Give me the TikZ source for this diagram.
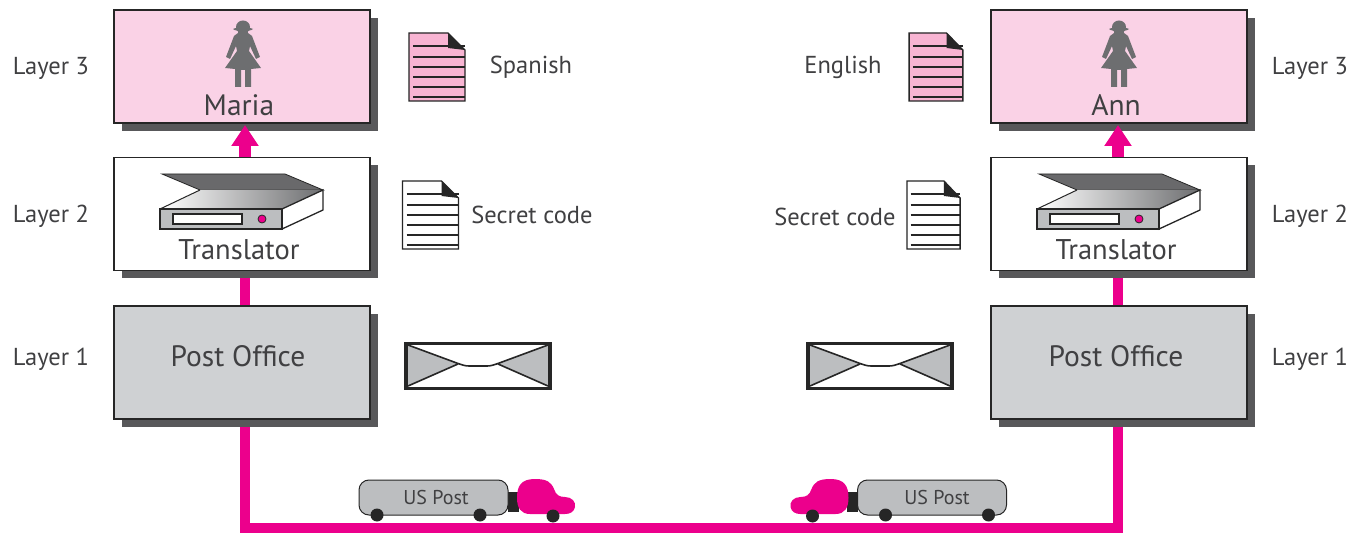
\documentclass[tikz,border=0pt]{standalone}
\usepackage{fontspec}
\setmainfont{PT Sans}
\usetikzlibrary{arrows.meta,shadows,backgrounds}
\definecolor{pinkline}{HTML}{EC008C}
\definecolor{boxpink}{HTML}{FAD2E6}
\definecolor{docpink}{HTML}{F8B4D2}
\definecolor{boxgrey}{HTML}{CFD1D3}
\definecolor{shade}{HTML}{58585A}
\definecolor{ink}{HTML}{262626}
\definecolor{txt}{HTML}{404042}
\definecolor{icongrey}{HTML}{6D6E70}
\definecolor{bodygrey}{HTML}{BCBEC0}
\tikzset{
  box/.style={draw=ink,line width=1.8pt,minimum width=256pt,minimum height=113pt,inner sep=0pt,outer sep=0pt,
    copy shadow={shadow xshift=8pt,shadow yshift=-8pt,fill=shade,draw=none}},
  pinkbox/.style={box,fill=boxpink},
  whitebox/.style={box,fill=white},
  greybox/.style={box,fill=boxgrey},
  lab/.style={text=txt,font=\fontsize{24.5}{27}\selectfont,inner sep=0pt},
  boxlab/.style={text=txt,font=\fontsize{29.5}{32}\selectfont,inner sep=0pt},
  trlab/.style={text=txt,font=\fontsize{28.5}{32}\selectfont,inner sep=0pt},
  truck text/.style={text=txt,font=\fontsize{20}{22}\selectfont,inner sep=0pt},
  wire/.style={draw=pinkline,line width=10pt,line join=miter},
  uparrow/.style={draw=pinkline,line width=12pt,-{Triangle[width=26pt,length=21pt]}},
  pic line/.style={draw=ink,line width=1.3pt},
  person/.pic={
    \fill[icongrey] (-5,-21) -- (5,-21) -- (9,-18) -- (17,3) -- (13,5) -- (7,-8) -- (6,-3) -- (18,14) -- (8,15) -- (8,33) -- (2,33) -- (2,16) -- (-2,16) -- (-2,33) -- (-8,33) -- (-8,15) -- (-18,14) -- (-6,-3) -- (-7,-8) -- (-13,5) -- (-17,3) -- (-9,-18) -- cycle;
    \fill[icongrey] (0,-27) ellipse (7 and 6.5);
    \fill[icongrey] (-10,-25) .. controls (-7,-27) and (7,-27) .. (10,-25) .. controls (7,-22) and (-7,-22) .. (-10,-25) -- cycle;
    \fill[icongrey] (-5,-25) rectangle (5,-19);
  },
  scanner/.pic={
    \fill[shade!90!white,draw=ink,line width=.8pt] (-80,-40) -- (43,-40) -- (81,-24) -- (-42,-24) -- cycle;
    \shade[left color=white,right color=icongrey] (-42,-24) -- (81,-24) -- (40,-5) -- (-82,-5) -- cycle;
    \draw[ink,line width=1pt] (-42,-24) -- (-82,-5);
    \filldraw[fill=white,pic line] (40,-5) -- (81,-24) -- (81,-4) -- (40,15) -- cycle;
    \filldraw[fill=bodygrey,pic line] (-82,-5) rectangle (40,15);
    \filldraw[fill=white,pic line] (-69,0) rectangle (0,10);
    \filldraw[fill=pinkline,draw=ink,line width=.8pt] (20,5) circle (4);
  },
  document/.pic={
    \filldraw[pic line,fill=#1] (-28,-34) -- (11,-34) -- (28,-17) -- (28,34) -- (-28,34) -- cycle;
    \fill[ink] (11,-34) -- (28,-17) -- (11,-19) -- cycle;
    \foreach \yy in {-21,-10,0,10,20,30}
      \draw[ink,line width=1.3pt] (-24,\yy) -- (28,\yy);
  },
  envelope/.pic={
    \fill[white] (-73,-24) rectangle (73,24);
    \fill[bodygrey] (-70,-21) -- (-20,-2) -- (-70,20) -- cycle;
    \fill[bodygrey] (70,-21) -- (20,-2) -- (70,20) -- cycle;
    \draw[ink,line width=1.6pt] (-70,-21) -- (-24,-4) .. controls (-16,-1) and (-13,0) .. (-9,0) -- (9,0) .. controls (13,0) and (16,-1) .. (24,-4) -- (70,-21);
    \draw[ink,line width=1.6pt] (-70,20) -- (-20,-2);
    \draw[ink,line width=1.6pt] (70,20) -- (20,-2);
    \draw[ink,line width=3.5pt] (-72,-22.5) rectangle (72,22.5);
  },
  truck/.pic={
    \fill[ink] (508,492) rectangle (519,512);
    \filldraw[fill=bodygrey,draw=ink,line width=1pt,rounded corners=10pt] (359,480) rectangle (508,515);
    \fill[pinkline] (517,498) .. controls (517,486) and (521,479) .. (535,479) .. controls (547,479) and (551,482) .. (554,489) .. controls (556,495) and (559,497) .. (565,497) .. controls (572,497) and (576,502) .. (575,507) .. controls (574,512) and (570,514) .. (565,514) -- (530,514) .. controls (521,514) and (517,508) .. (517,498) -- cycle;
    \fill[ink] (377,515) circle (6.5) (480,515) circle (6.5) (553,516) circle (6.5);
  },
}
\begin{document}
\begin{tikzpicture}[x=1pt,y=-1pt]
\useasboundingbox (0,0) rectangle (1362,534);
% boxes
\node[pinkbox]  (mariaBox) at (242,66.5) {};
\node[whitebox] (transL)   at (242,214) {};
\node[greybox]  (postL)    at (242,362.5) {};
\node[pinkbox]  (annBox)   at (1119,66.5) {};
\node[whitebox] (transR)   at (1119,214) {};
\node[greybox]  (postR)    at (1119,362.5) {};
% connectors
\coordinate (bus) at (680,528);
\begin{scope}[on background layer]
  \fill[white] (0,0) rectangle (1362,534);
  \draw[wire] ([xshift=3pt]postL.south) |- (bus) -| ([xshift=-1pt]postR.south);
  \draw[wire] ([xshift=3pt]postL.north) -- ([xshift=3pt]transL.south);
  \draw[wire] ([xshift=-1pt]postR.north) -- ([xshift=-1pt]transR.south);
\end{scope}
\draw[uparrow] ([xshift=3pt]transL.north) -- ([xshift=3pt,yshift=-2pt]mariaBox.south);
\draw[uparrow] ([xshift=-1pt]transR.north) -- ([xshift=-1pt,yshift=-2pt]annBox.south);
% box labels
\node[boxlab] (mariaT) at (239,105) {Maria};
\node[boxlab] (annT) at (1116,105) {Ann};
\node[trlab] (trLT) at (239,250) {Translator};
\node[trlab] (trRT) at (1116,250) {Translator};
\node[boxlab] (poLT) at (238,356) {Post Office};
\node[boxlab] (poRT) at (1116,356) {Post Office};
% icons
\pic at (243,54) {person};
\pic at (1119,54) {person};
\pic at (242,214) {scanner};
\pic at (1119,214) {scanner};
\pic at (437,67) {document=docpink};
\pic[xscale=.96] at (936,67) {document=docpink};
\pic at (430.5,215) {document=white};
\pic[xscale=.95] at (933.5,215) {document=white};
\pic at (478,366) {envelope};
\pic at (880,366) {envelope};
\pic at (0,0) {truck};
\pic[xscale=-1] at (1365.5,0) {truck};
\node[truck text] (usL) at (436,497) {US Post};
\node[truck text] (usR) at (937,497) {US Post};
% side labels
\node[lab] (l3L) at (51,68) {Layer 3};
\node[lab] (l2L) at (51,216) {Layer 2};
\node[lab] (l1L) at (51,359) {Layer 1};
\node[lab] (l3R) at (1310,68) {Layer 3};
\node[lab] (l2R) at (1310,216) {Layer 2};
\node[lab] (l1R) at (1310,359) {Layer 1};
\node[lab] (sp) at (531,67) {Spanish};
\node[lab] (en) at (843,67) {English};
\node[lab] (scL) at (532,215) {Secret code};
\node[lab] (scR) at (835,217) {Secret code};
\end{tikzpicture}
\end{document}
